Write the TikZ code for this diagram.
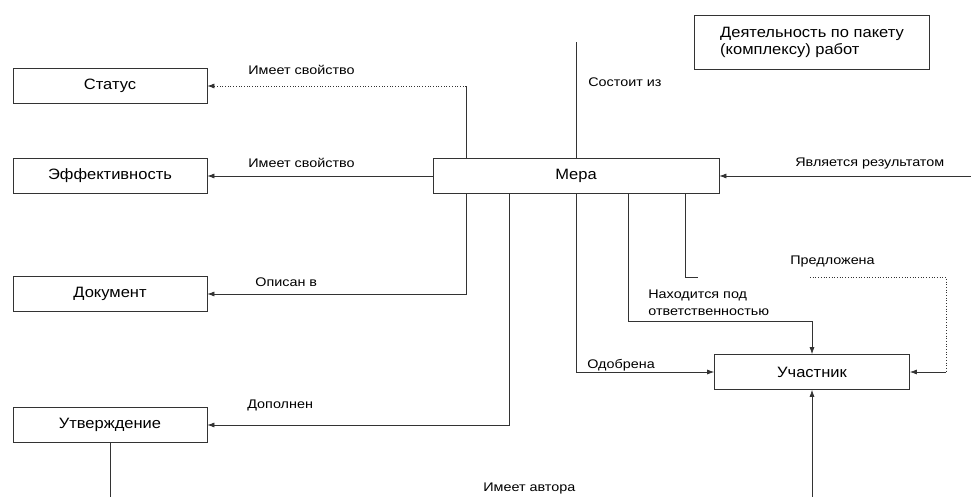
\documentclass[tikz,border=0pt]{standalone}
\usepackage{fontspec}
\setmainfont{Liberation Sans}
\newfontfamily\boxfont[FakeStretch=1.1]{Liberation Sans}
\newfontfamily\relfont[FakeStretch=1.15]{Liberation Sans}
\usetikzlibrary{arrows.meta}

\begin{document}
\begin{tikzpicture}[x=1pt,y=-1pt,>={Latex[length=7pt,width=5pt]},line width=0.7pt,draw=black!80]
        \tikzstyle{entity}=[draw,rectangle,minimum height=35pt,inner sep=0pt,font=\boxfont\fontsize{15}{17}\selectfont]
        \tikzstyle{side entity}=[entity,minimum width=194pt]
        \tikzstyle{rel}=[anchor=west,inner sep=0pt,font=\relfont\fontsize{12.5}{17}\selectfont]
        \useasboundingbox (0,0) rectangle (971,497);

        % Left column of entities
        \foreach \name/\y/\txt in {status/86/Статус, eff/176/Эффективность, doc/294/Документ, appr/425/Утверждение}
            \node[side entity] (\name) at (110,\y) {\txt};

        % Central and right entities
        \node[entity, minimum width=286pt] (mera) at (576,176) {Мера};
        \node[entity, minimum width=195pt] (part) at (812,372) {Участник};
        \node[entity, minimum width=235pt, minimum height=54pt, align=left] (wp) at (812,42) {Деятельность по пакету\\(комплексу) работ};

        % Bend points and free ends
        \coordinate (c1) at (466,0);
        \coordinate (c2) at (509,0);
        \coordinate (c3) at (628,0);
        \coordinate (c4) at (685,0);
        \coordinate (top) at (576,42);
        \coordinate (resp) at (0,321);
        \coordinate (stub) at (698,277);
        \coordinate (prop) at (810,277);
        \coordinate (rgt) at (971,176);
        \coordinate (bot) at (0,497);

        % Connectors to the left column
        \draw (mera.north -| c1) -- (c1 |- status.east) coordinate (sc);
        \draw[dotted,->] (sc) -- (status.east);
        \draw[->] (mera.west) -- (eff.east);
        \draw[->] (mera.south -| c1) |- (doc.east);
        \draw[->] (mera.south -| c2) |- (appr.east);

        % Connectors to the participant
        \draw[->] (mera.south) |- (part.west);
        \draw[->] (mera.south -| c3) |- (resp -| part.north) -- (part.north);
        \draw (mera.south -| c4) |- (stub);
        \draw[dotted] (prop) -| ([xshift=36pt]part.east) coordinate (pc);
        \draw[->] (pc) -- (part.east);
        \draw (appr.south) -- (appr.south |- bot);
        \draw[->] (part.south |- bot) -- (part.south);

        % Other connectors
        \draw (mera.north) -- (top);
        \draw[->] (rgt) -- (mera.east);

        % Relationship labels
        \node[rel] (l-status) at (248,70) {Имеет свойство};
        \node[rel] (l-eff) at (248,163) {Имеет свойство};
        \node[rel] (l-doc) at (255,282) {Описан в};
        \node[rel] (l-appr) at (247,405) {Дополнен};
        \node[rel] (l-cons) at (588,82) {Состоит из};
        \node[rel] (l-res) at (795,163) {Является результатом};
        \node[rel, align=left] (l-resp) at (648,303) {Находится под\\ответственностью};
        \node[rel] (l-okd) at (587,365) {Одобрена};
        \node[rel] (l-prop) at (790,261) {Предложена};
        \node[rel] (l-auth) at (483,488) {Имеет автора};
    \end{tikzpicture}
\end{document}
